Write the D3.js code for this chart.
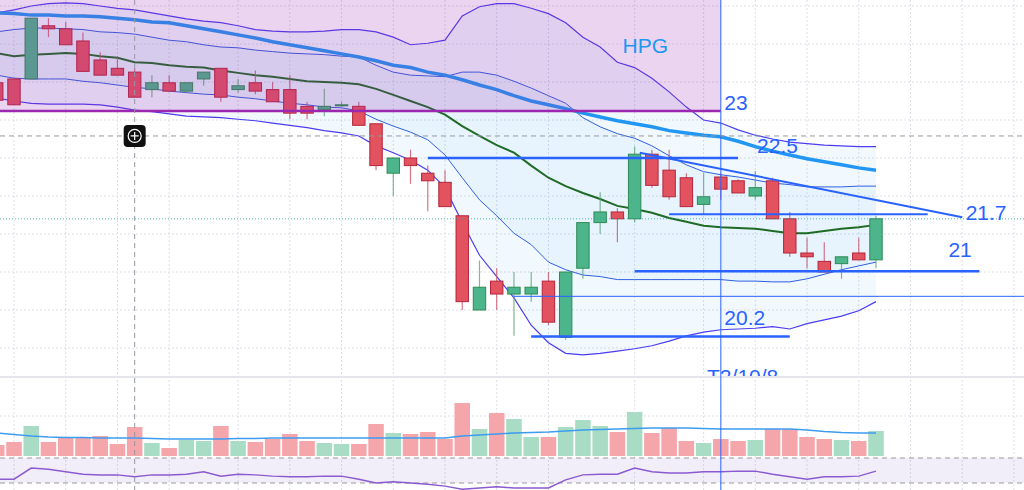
<!DOCTYPE html>
<html>
<head>
<meta charset="utf-8">
<script src="https://cdn.jsdelivr.net/npm/d3@7"></script>
<style>
  body { margin: 0; background: #fff; overflow: hidden; }
  svg { display: block; }
  text { font-family: "Liberation Sans", Arial, sans-serif; }
</style>
</head>
<body>
<div id="chart"></div>
<script>
// HPG daily candles, index -1 is the half-hidden one on the left edge
var idx = d3.range(-1, 51);
var openP  = [23.49,23.54,23.54,24.24,24.20,24.04,23.79,23.68,23.63,23.40,23.49,23.38,23.54,23.68,23.40,23.49,23.40,23.40,23.18,23.14,23.19,23.18,22.95,22.30,22.50,22.30,22.18,21.74,20.50,20.88,20.71,20.71,20.88,20.14,21.05,21.65,21.79,21.70,22.55,22.34,22.24,21.89,22.25,22.20,22.00,22.20,21.70,21.25,21.14,21.11,21.25,21.16];
var highP  = [23.49,23.54,24.34,24.34,24.29,24.15,23.89,23.84,23.68,23.59,23.59,23.49,23.63,23.68,23.54,23.65,23.50,23.59,23.24,23.41,23.24,23.24,22.95,22.50,22.61,22.40,22.34,21.74,21.15,21.05,21.00,21.00,21.00,21.00,21.65,22.05,21.84,22.65,22.61,22.61,22.30,22.30,22.30,22.22,22.33,22.24,21.79,21.45,21.39,21.20,21.45,21.74];
var lowP   = [23.26,23.20,23.54,24.09,23.99,23.64,23.59,23.59,23.30,23.30,23.38,23.36,23.45,23.24,23.36,23.34,23.24,23.01,23.01,23.05,23.17,22.93,22.34,22.00,22.16,21.80,21.86,20.50,20.50,20.50,20.16,20.61,20.30,20.11,20.91,21.50,21.39,21.65,22.11,21.95,21.86,21.75,21.95,22.04,21.95,21.70,21.20,21.05,21.00,20.91,21.16,21.05];
var closeP = [23.26,23.20,24.34,24.20,23.99,23.64,23.59,23.59,23.30,23.49,23.38,23.49,23.63,23.30,23.45,23.38,23.24,23.09,23.09,23.18,23.20,22.93,22.40,22.50,22.40,22.20,21.86,20.61,20.80,20.71,20.80,20.80,20.34,21.00,21.65,21.79,21.70,22.55,22.14,21.99,21.86,21.99,22.09,22.04,22.11,21.70,21.25,21.20,21.00,21.20,21.16,21.70];
var volume = [11,14,30,14,19,19,20,12,29,13,8,16,15,30,15,14,17,22,15,13,12,12,32,23,22,24,17,53,27,43,37,19,19,29,36,30,24,44,23,28,15,13,17,15,16,27,27,19,17,16,15,25];
var volMA  = [23,21.5,20,19,18.5,18.5,18,18,18,17.5,17,17,17,17,17.5,17.5,18,18,18,18,18,18,18,18,18,18,18,20,21,22,23,23.5,24,25,26,26.5,27,27.5,28,28,28,27.5,27,27,27,27,27,26,24.5,23.5,23,23];
var rsi    = [36,36,54,52,48,44,43,43,40,43,43,44,48,41,44,43,41,40,40,41,41,36,30,32,30,28,25,20,22,24,22,22,22,35,43,44,44,54,48,46,46,48,48,49,49,44,40,36,40,40,41,49];

// bands and averages
var bbUp2  = [24.41,24.45,24.50,24.53,24.54,24.53,24.50,24.47,24.45,24.41,24.37,24.33,24.30,24.28,24.24,24.19,24.17,24.16,24.16,24.17,24.19,24.19,24.16,24.09,23.99,24.01,24.05,24.37,24.49,24.53,24.53,24.47,24.40,24.28,24.09,23.96,23.76,23.69,23.55,23.37,23.17,23.00,22.96,22.87,22.80,22.75,22.71,22.69,22.67,22.66,22.65,22.65];
var bbUp1  = [24.16,24.19,24.21,24.21,24.20,24.19,24.16,24.15,24.13,24.09,24.05,24.03,23.99,23.96,23.95,23.92,23.90,23.88,23.87,23.86,23.84,23.83,23.72,23.63,23.59,23.58,23.57,23.63,23.63,23.59,23.51,23.42,23.32,23.22,23.03,22.91,22.82,22.76,22.66,22.53,22.41,22.32,22.28,22.25,22.21,22.17,22.15,22.12,22.12,22.12,22.13,22.13];
var bbMid  = [23.88,23.84,23.86,23.87,23.88,23.87,23.84,23.82,23.76,23.75,23.72,23.70,23.69,23.65,23.62,23.59,23.57,23.54,23.51,23.50,23.49,23.47,23.41,23.33,23.25,23.17,23.07,22.92,22.79,22.67,22.57,22.40,22.24,22.13,22.04,21.96,21.87,21.83,21.78,21.71,21.66,21.61,21.59,21.58,21.57,21.54,21.51,21.51,21.54,21.57,21.59,21.62];
var bbLo1  = [23.59,23.55,23.54,23.54,23.54,23.51,23.49,23.46,23.43,23.41,23.38,23.36,23.34,23.33,23.30,23.28,23.25,23.22,23.20,23.17,23.16,23.12,23.01,22.92,22.84,22.74,22.54,22.24,21.95,21.74,21.51,21.36,21.13,21.03,20.96,20.94,20.90,20.90,20.90,20.90,20.90,20.90,20.90,20.88,20.88,20.87,20.87,20.91,20.97,21.03,21.08,21.13];
var bbLo2  = [23.29,23.25,23.22,23.21,23.21,23.21,23.20,23.17,23.13,23.11,23.08,23.05,23.04,23.03,23.01,22.99,22.96,22.93,22.90,22.86,22.83,22.79,22.66,22.57,22.47,22.34,22.11,21.65,21.22,20.94,20.66,20.30,20.07,19.93,19.91,19.93,19.96,19.99,20.03,20.09,20.16,20.21,20.24,20.25,20.26,20.28,20.25,20.32,20.37,20.42,20.49,20.61];
var ma50   = [24.41,24.40,24.38,24.38,24.37,24.37,24.36,24.34,24.32,24.29,24.28,24.24,24.20,24.16,24.12,24.08,24.03,23.99,23.95,23.91,23.87,23.83,23.78,23.72,23.69,23.63,23.59,23.53,23.46,23.40,23.32,23.25,23.20,23.15,23.09,23.04,22.99,22.95,22.91,22.86,22.83,22.80,22.78,22.72,22.65,22.59,22.54,22.49,22.45,22.41,22.37,22.34];

// drawn levels (price, from bar, to bar)
var levelPrice = [22.5, 21.76, 21.01, 20.68, 20.15];
var levelFrom  = [24, 38, 36, 29, 30];
var levelTo    = [42, 53, 56, 60, 45];
var trendFrom  = [36.3, 22.57];
var trendTo    = [55, 21.72];
var boxTop = 23.12, boxFrom = -1, boxTo = 41;
var markBar = 41;
var labelText = ['HPG', '23', '22.5', '21.7', '21', '20.2', 'T2/10/8'];
var labelBar  = [35.3, 41.2, 43.1, 55.2, 54.2, 41.2, 40.2];
var labelP    = [23.88, 23.13, 22.57, 21.68, 21.20, 20.30, 19.53];
var gridBars  = [0,3,6,9,13,16,19,22,25,28,31,36,40,43,46,49,52,55,58];
var crossBar = 7, crossP = 22.79;

var W = 1024, H = 490;
var svg = d3.select('#chart').append('svg').attr('width', W).attr('height', H);

var x  = d3.scaleLinear().domain([0, 50]).range([14, 876]);
var y  = d3.scaleLinear().domain([20, 24.5]).range([348, 6]);
var yv = d3.scaleLinear().domain([0, 60]).range([456, 396]);
var yr = d3.scaleLinear().domain([30, 70]).range([483, 458]);
var step = x(1) - x(0);

var data = idx.map(function(d, k) {
  return {i: d, o: openP[k], h: highP[k], l: lowP[k], c: closeP[k], v: volume[k], vma: volMA[k], r: rsi[k],
    u2: bbUp2[k], u1: bbUp1[k], m: bbMid[k], l1: bbLo1[k], l2: bbLo2[k], ma: ma50[k]};
});

svg.append('defs').append('clipPath').attr('id', 'mainClip')
  .append('rect').attr('x', 0).attr('y', 0).attr('width', W).attr('height', 376);

// grid
var grid = svg.append('g');
grid.selectAll('line.v').data(gridBars).enter().append('line')
  .attr('x1', d => x(d)).attr('x2', d => x(d)).attr('y1', 0).attr('y2', H)
  .style('stroke', '#dcdfe6').style('stroke-dasharray', '2,2');
grid.selectAll('line.h').data(d3.range(20, 24.51, 0.5)).enter().append('line')
  .attr('x1', 0).attr('x2', W).attr('y1', d => y(d)).attr('y2', d => y(d))
  .style('stroke', '#dcdfe6').style('stroke-dasharray', '2,2');
grid.append('line').attr('x1', 0).attr('x2', W).attr('y1', yv(40)).attr('y2', yv(40))
  .style('stroke', '#dcdfe6').style('stroke-dasharray', '2,2');

var main = svg.append('g').attr('clip-path', 'url(#mainClip)');

// bands
main.append('path').datum(data)
  .attr('d', d3.area().x(d => x(d.i)).y0(d => y(d.l2)).y1(d => y(d.u2)))
  .style('fill', 'rgba(33,150,243,0.06)');
main.append('path').datum(data)
  .attr('d', d3.area().x(d => x(d.i)).y0(d => y(d.l1)).y1(d => y(d.u1)))
  .style('fill', 'rgba(33,150,243,0.05)');

function drawLine(key, color, width) {
  main.append('path').datum(data)
    .attr('d', d3.line().x(d => x(d.i)).y(d => y(d[key])))
    .style('fill', 'none').style('stroke', color).style('stroke-width', width);
}
drawLine('u2', '#4b3cf0', 1.2);
drawLine('l2', '#4b3cf0', 1.2);
drawLine('u1', '#2f5fe0', 1);
drawLine('l1', '#2f5fe0', 1);
drawLine('m', '#1f6b26', 2);
drawLine('ma', '#2196f3', 3.5);

// candles
var up = d => d.c >= d.o;
var cg = main.selectAll('g.candle').data(data).enter().append('g');
cg.append('line')
  .attr('x1', d => x(d.i)).attr('x2', d => x(d.i))
  .attr('y1', d => y(d.h)).attr('y2', d => y(d.l))
  .style('stroke', d => up(d) ? '#5fa877' : '#c9566a').style('stroke-width', 1.2).style('opacity', 0.8);
cg.append('rect')
  .attr('x', d => x(d.i) - step * 0.36)
  .attr('width', step * 0.72)
  .attr('y', d => y(Math.max(d.o, d.c)))
  .attr('height', d => Math.max(1, y(Math.min(d.o, d.c)) - y(Math.max(d.o, d.c))))
  .style('fill', d => up(d) ? '#4db58b' : '#e2525f')
  .style('stroke', d => up(d) ? '#2f8a55' : '#b5253a').style('stroke-width', 1);

// purple box over the older bars
main.append('rect')
  .attr('x', x(boxFrom) - 10).attr('y', -10)
  .attr('width', x(boxTo) - x(boxFrom) + 10).attr('height', y(boxTop) + 10)
  .style('fill', 'rgba(156,39,176,0.2)');
main.append('line')
  .attr('x1', 0).attr('x2', x(boxTo)).attr('y1', y(boxTop)).attr('y2', y(boxTop))
  .style('stroke', '#9c27b0').style('stroke-width', 2.5);

// horizontal levels and trendline
var lw = [2.5, 2, 2.5, 1, 2.5];
main.selectAll('line.level').data(levelPrice).enter().append('line')
  .attr('x1', (d, k) => x(levelFrom[k])).attr('x2', (d, k) => x(levelTo[k]))
  .attr('y1', d => y(d)).attr('y2', d => y(d))
  .style('stroke', '#2962ff').style('stroke-width', (d, k) => lw[k]);
main.append('line')
  .attr('x1', x(trendFrom[0])).attr('y1', y(trendFrom[1]))
  .attr('x2', x(trendTo[0])).attr('y2', y(trendTo[1]))
  .style('stroke', '#2962ff').style('stroke-width', 2);

// last price line
main.append('line')
  .attr('x1', 0).attr('x2', W).attr('y1', y(closeP[closeP.length - 1])).attr('y2', y(closeP[closeP.length - 1]))
  .style('stroke', '#26a69a').style('stroke-dasharray', '1,2').style('opacity', 0.8);

// labels
main.selectAll('text.lbl').data(labelText).enter().append('text')
  .attr('x', (d, k) => x(labelBar[k])).attr('y', (d, k) => y(labelP[k]))
  .text(d => d)
  .style('font-size', '21px')
  .style('fill', (d, k) => k === 0 ? '#2196f3' : '#2962ff');

// pane separator
svg.append('line').attr('x1', 0).attr('x2', W).attr('y1', 377).attr('y2', 377)
  .style('stroke', '#e3e5ea').style('stroke-width', 2);

// volume
svg.selectAll('rect.vol').data(data).enter().append('rect')
  .attr('x', d => x(d.i) - step * 0.45).attr('width', step * 0.9)
  .attr('y', d => yv(d.v)).attr('height', d => yv(0) - yv(d.v))
  .style('fill', d => up(d) ? '#a9dcc4' : '#f5a6ab');
svg.append('path').datum(data)
  .attr('d', d3.line().x(d => x(d.i)).y(d => yv(d.vma)))
  .style('fill', 'none').style('stroke', '#3d9cf0').style('stroke-width', 1.6);

// lower oscillator
svg.append('rect').attr('x', 0).attr('width', W).attr('y', yr(70)).attr('height', yr(30) - yr(70))
  .style('fill', 'rgba(126,87,194,0.1)');
svg.selectAll('line.band').data([70, 30]).enter().append('line')
  .attr('x1', 0).attr('x2', W).attr('y1', d => yr(d)).attr('y2', d => yr(d))
  .style('stroke', '#9a9a9a').style('stroke-dasharray', '5,4');
svg.append('path').datum(data)
  .attr('d', d3.line().x(d => x(d.i)).y(d => yr(d.r)))
  .style('fill', 'none').style('stroke', '#8a5ad0').style('stroke-width', 1.5);

// vertical marker line
svg.append('line').attr('x1', x(markBar)).attr('x2', x(markBar)).attr('y1', 0).attr('y2', H)
  .style('stroke', '#2962ff').style('stroke-width', 1);

// crosshair
svg.append('line').attr('x1', 0).attr('x2', W).attr('y1', y(crossP)).attr('y2', y(crossP))
  .style('stroke', '#9598a1').style('stroke-dasharray', '5,4');
svg.append('line').attr('x1', x(crossBar)).attr('x2', x(crossBar)).attr('y1', 0).attr('y2', H)
  .style('stroke', '#9598a1').style('stroke-dasharray', '5,4');
var icon = svg.append('g').attr('transform', 'translate(' + x(crossBar) + ',' + y(crossP) + ')');
icon.append('rect').attr('x', -11).attr('y', -11).attr('width', 22).attr('height', 22).attr('rx', 4)
  .style('fill', '#111');
icon.append('circle').attr('r', 6.5).style('fill', 'none').style('stroke', '#fff').style('stroke-width', 1.2);
icon.append('path').attr('d', 'M-4,0H4M0,-4V4').style('stroke', '#fff').style('stroke-width', 1.2);
</script>
</body>
</html>
